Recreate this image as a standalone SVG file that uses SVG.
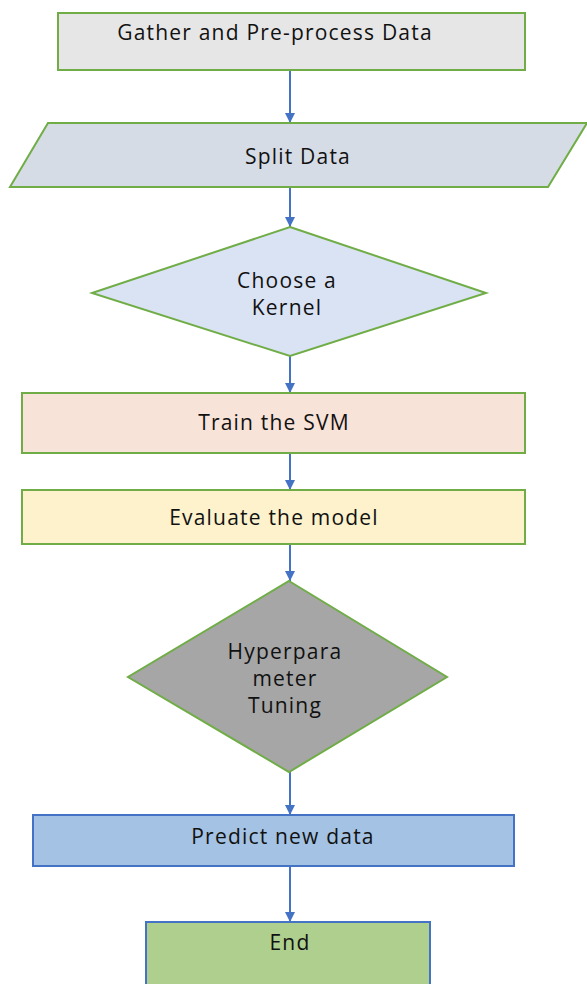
<svg xmlns="http://www.w3.org/2000/svg" width="587" height="984" viewBox="0 0 587 984">
<defs>
<marker id="ah" viewBox="0 0 10 10" refX="10" refY="5" markerWidth="10" markerHeight="10" markerUnits="userSpaceOnUse" orient="auto">
<path d="M0,0 L10,5 L0,10 Z" fill="#4472c4"/>
</marker>
<style>
.n{stroke:#70ad47;stroke-width:2}
.b{stroke:#4472c4;stroke-width:2}
.t{font-family:"Open Sans","Noto Sans",sans-serif;font-size:21px;letter-spacing:1.2px;fill:#111;text-anchor:middle}
.c line{stroke:#4472c4;stroke-width:2;marker-end:url(#ah)}
</style>
</defs>
<rect width="587" height="984" fill="#fff"/>
<g id="connectors" class="c">
<line x1="290" y1="70" x2="290" y2="123"/>
<line x1="290" y1="187" x2="290" y2="227"/>
<line x1="290" y1="356" x2="290" y2="393"/>
<line x1="290" y1="453" x2="290" y2="490"/>
<line x1="290" y1="544" x2="290" y2="581"/>
<line x1="290" y1="772" x2="290" y2="815"/>
<line x1="290" y1="866" x2="290" y2="922"/>
</g>
<g id="gather">
<rect class="n" x="58" y="13" width="467" height="57" fill="#e7e6e6"/>
<text class="t" x="275" y="40">Gather and Pre-process Data</text>
</g>
<g id="split">
<polygon class="n" points="48,123 587,123 548,187 10,187" fill="#d6dce5"/>
<text class="t" x="298" y="164">Split Data</text>
</g>
<g id="kernel">
<polygon class="n" points="290,227 486,293 290,356 92,293" fill="#dae3f3"/>
<text class="t" x="287" y="288">Choose a</text>
<text class="t" x="287" y="315">Kernel</text>
</g>
<g id="train">
<rect class="n" x="22" y="393" width="503" height="60" fill="#f8e3d8"/>
<text class="t" x="274" y="430">Train the SVM</text>
</g>
<g id="evaluate">
<rect class="n" x="22" y="490" width="503" height="54" fill="#fdf2cc"/>
<text class="t" x="274" y="525">Evaluate the model</text>
</g>
<g id="tuning">
<polygon class="n" points="289,581 447,677 289,772 128,677" fill="#a6a6a6"/>
<text class="t" x="285" y="659">Hyperpara</text>
<text class="t" x="285" y="686">meter</text>
<text class="t" x="285" y="713">Tuning</text>
</g>
<g id="predict">
<rect class="b" x="33" y="815" width="481" height="51" fill="#a4c2e3"/>
<text class="t" x="283" y="844">Predict new data</text>
</g>
<g id="end">
<rect class="b" x="146" y="922" width="284" height="70" fill="#aecf8e"/>
<text class="t" x="290" y="950">End</text>
</g>
</svg>
